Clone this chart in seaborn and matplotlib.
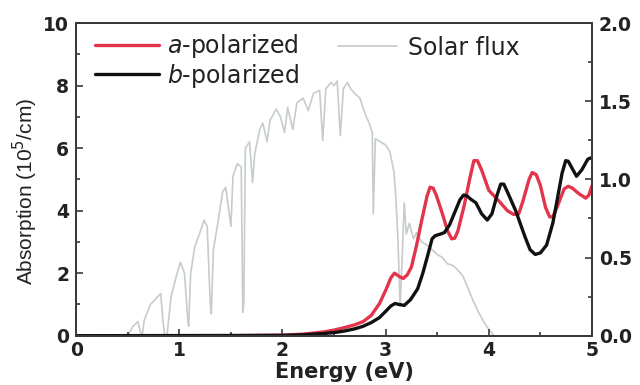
import matplotlib
matplotlib.use("Agg")
import matplotlib.pyplot as plt
from matplotlib.ticker import MultipleLocator
import seaborn as sns
import pandas as pd

# Absorption spectra (10^5 /cm) versus photon energy (eV)
energy_a = [0.0, 1.0, 1.5, 2.0, 2.2, 2.4, 2.5, 2.6, 2.7, 2.78, 2.86, 2.94, 3.0, 3.05,
            3.085, 3.13, 3.17, 3.21, 3.25, 3.30, 3.35, 3.40, 3.43, 3.46, 3.49, 3.55,
            3.60, 3.64, 3.67, 3.70, 3.76, 3.82, 3.855, 3.89, 3.93, 4.0, 4.10, 4.18,
            4.24, 4.29, 4.33, 4.39, 4.42, 4.46, 4.50, 4.55, 4.59, 4.62, 4.66, 4.73,
            4.77, 4.81, 4.87, 4.94, 4.97, 5.0]
absorb_a = [0.0, 0.0, 0.0, 0.02, 0.05, 0.12, 0.18, 0.26, 0.35, 0.45, 0.65, 1.03, 1.45, 1.85,
            2.0, 1.9, 1.83, 1.95, 2.2, 2.9, 3.7, 4.45, 4.75, 4.72, 4.5, 3.9,
            3.35, 3.1, 3.12, 3.35, 4.15, 5.1, 5.6, 5.6, 5.3, 4.65, 4.3, 4.0,
            3.88, 3.9, 4.3, 5.0, 5.22, 5.15, 4.8, 4.1, 3.8, 3.8, 4.1, 4.7,
            4.78, 4.72, 4.55, 4.4, 4.5, 4.8]

energy_b = [0.0, 2.0, 2.2, 2.4, 2.5, 2.6, 2.7, 2.78, 2.86, 2.94, 3.0, 3.05, 3.09, 3.13,
            3.18, 3.24, 3.31, 3.36, 3.41, 3.45, 3.48, 3.53, 3.57, 3.62, 3.67, 3.72,
            3.755, 3.79, 3.82, 3.875, 3.93, 3.985, 4.03, 4.08, 4.115, 4.145, 4.18, 4.26,
            4.35, 4.40, 4.45, 4.50, 4.56, 4.62, 4.66, 4.71, 4.745, 4.77, 4.80, 4.85,
            4.90, 4.96, 5.0]
absorb_b = [0.0, 0.01, 0.03, 0.07, 0.10, 0.15, 0.22, 0.30, 0.42, 0.58, 0.78, 0.95, 1.03, 1.0,
            0.97, 1.15, 1.5, 2.0, 2.6, 3.1, 3.2, 3.25, 3.3, 3.55, 3.95, 4.35,
            4.5, 4.47, 4.38, 4.25, 3.9, 3.7, 3.9, 4.5, 4.85, 4.85, 4.6, 4.0,
            3.17, 2.75, 2.6, 2.65, 2.9, 3.6, 4.3, 5.2, 5.6, 5.58, 5.4, 5.1,
            5.3, 5.65, 5.7]

# AM1.5 solar photon flux (right axis)
energy_sun = [0.30, 0.50, 0.55, 0.60, 0.62, 0.64, 0.66, 0.72, 0.82, 0.84, 0.86, 0.88, 0.92,
              0.97, 1.01, 1.05, 1.08, 1.09, 1.11, 1.15, 1.20, 1.24, 1.27, 1.30, 1.31, 1.33,
              1.38, 1.42, 1.45, 1.48, 1.50, 1.52, 1.56, 1.60, 1.615, 1.625, 1.64, 1.68,
              1.71, 1.73, 1.78, 1.81, 1.85, 1.88, 1.94, 1.98, 2.02, 2.05, 2.10, 2.14,
              2.20, 2.25, 2.30, 2.36, 2.39, 2.42, 2.47, 2.50, 2.53, 2.56, 2.59, 2.63,
              2.66, 2.70, 2.75, 2.80, 2.84, 2.87, 2.88, 2.90, 2.95, 3.00, 3.04, 3.08,
              3.10, 3.12, 3.14, 3.16, 3.18, 3.20, 3.23, 3.27, 3.30, 3.35, 3.40, 3.45,
              3.50, 3.55, 3.60, 3.65, 3.70, 3.75, 3.80, 3.85, 3.90, 3.95, 4.00, 4.05]
flux_sun = [0.0, 0.0, 0.06, 0.09, 0.03, 0.0, 0.10, 0.20, 0.27, 0.10, 0.0, 0.0, 0.25,
            0.38, 0.47, 0.40, 0.12, 0.06, 0.40, 0.57, 0.66, 0.74, 0.70, 0.20, 0.14, 0.55,
            0.75, 0.92, 0.95, 0.80, 0.70, 1.02, 1.10, 1.08, 0.15, 0.20, 1.20, 1.24,
            0.98, 1.16, 1.32, 1.36, 1.24, 1.38, 1.45, 1.40, 1.30, 1.46, 1.32, 1.49,
            1.52, 1.44, 1.55, 1.57, 1.25, 1.58, 1.62, 1.60, 1.63, 1.28, 1.58, 1.62,
            1.58, 1.55, 1.52, 1.42, 1.36, 1.30, 0.78, 1.26, 1.24, 1.22, 1.18, 1.05,
            0.87, 0.60, 0.19, 0.50, 0.85, 0.65, 0.72, 0.62, 0.66, 0.60, 0.58, 0.55,
            0.52, 0.50, 0.46, 0.45, 0.42, 0.38, 0.30, 0.22, 0.15, 0.09, 0.04, 0.0]

df_a = pd.DataFrame({"E": energy_a, "abs": absorb_a})
df_b = pd.DataFrame({"E": energy_b, "abs": absorb_b})
df_sun = pd.DataFrame({"E": energy_sun, "flux": flux_sun})

sns.set_theme(style="white")
plt.rcParams["font.family"] = ["DejaVu Sans"]

RED = "#e2354b"
BLACK = "#111111"
GREY = "#c6cccb"
SPINE = "#3a3a3a"
TEXT = "#222222"

fig = plt.figure(figsize=(6.4, 3.85), dpi=100)
ax = fig.add_axes([0.119, 0.128, 0.806, 0.812])
ax2 = ax.twinx()

sns.lineplot(data=df_sun, x="E", y="flux", ax=ax2, color=GREY, lw=1.2,
             estimator=None, label="Solar flux", legend=False)
sns.lineplot(data=df_a, x="E", y="abs", ax=ax, color=RED, lw=2.4,
             estimator=None, label="$a$-polarized", legend=False)
sns.lineplot(data=df_b, x="E", y="abs", ax=ax, color=BLACK, lw=2.4,
             estimator=None, label="$b$-polarized", legend=False)

# absorption axes drawn above the solar spectrum
ax.set_zorder(ax2.get_zorder() + 1)
ax.patch.set_visible(False)

ax.set_xlim(0, 5)
ax.set_ylim(0, 10)
ax2.set_ylim(0, 2.0)
ax.xaxis.set_major_locator(MultipleLocator(1))
ax.xaxis.set_minor_locator(MultipleLocator(0.5))
ax.yaxis.set_major_locator(MultipleLocator(2))
ax.yaxis.set_minor_locator(MultipleLocator(1))
ax2.yaxis.set_major_locator(MultipleLocator(0.5))
ax2.yaxis.set_minor_locator(MultipleLocator(0.25))
ax2.set_yticklabels([f"{v:.1f}" for v in ax2.get_yticks()])

for a in (ax, ax2):
    for s in a.spines.values():
        s.set_color(SPINE)
        s.set_linewidth(1.4)
    a.tick_params(which="both", direction="in", color=SPINE, width=1.2,
                  labelsize=13.5, labelcolor=TEXT)
    a.tick_params(which="major", length=5)
    a.tick_params(which="minor", length=3)
    for lbl in a.get_xticklabels() + a.get_yticklabels():
        lbl.set_fontweight("bold")
ax.tick_params(axis="y", which="both", right=False, left=True, pad=5)
ax.tick_params(axis="x", which="both", top=False, bottom=True, pad=4)
ax2.tick_params(axis="y", which="both", right=True, left=False, pad=5)
ax2.grid(False)
ax.grid(False)

ax.set_xlabel("Energy (eV)", fontsize=15, fontweight="bold", color=TEXT)
ax.set_ylabel("Absorption (10$^5$/cm)", fontsize=15, color=TEXT,
              family="Liberation Sans")
ax.xaxis.set_label_coords(0.52, -0.085)
ax.yaxis.set_label_coords(-0.07, 0.463)
ax2.set_ylabel("")

h, l = ax.get_legend_handles_labels()
leg1 = ax.legend(h, l, loc="upper left", bbox_to_anchor=(0.037, 0.97),
                 frameon=False, fontsize=17, handlelength=2.7, handletextpad=0.35,
                 labelspacing=0.05, borderpad=0, borderaxespad=0)
for t in leg1.get_texts():
    t.set_color(TEXT)
ax.add_artist(leg1)
h2, l2 = ax2.get_legend_handles_labels()
leg2 = ax.legend(h2, l2, loc="upper left", bbox_to_anchor=(0.508, 0.96),
                 frameon=False, fontsize=17, handlelength=2.5, handletextpad=0.45,
                 borderpad=0, borderaxespad=0)
for t in leg2.get_texts():
    t.set_color(TEXT)

fig.savefig("out.png", dpi=100)
